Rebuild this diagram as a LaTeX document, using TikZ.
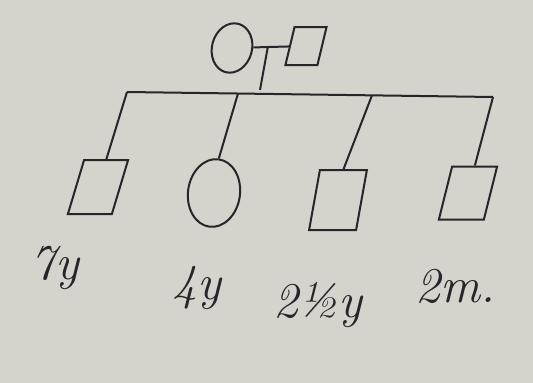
\documentclass[tikz,border=0pt]{standalone}
\usepackage{fontspec}
\usetikzlibrary{shapes.geometric}
\definecolor{paper}{RGB}{214,211,204}
\definecolor{ink}{RGB}{38,38,42}
\begin{document}
\begin{tikzpicture}[x=1pt,y=-1pt,
  male/.style={draw=ink, rectangle, inner sep=0pt, line width=2pt},
  female/.style={draw=ink, ellipse, inner sep=0pt, line width=2pt},
  conn/.style={draw=ink, line width=2pt},
  age/.style={text=ink, inner sep=0pt, font=\fontsize{50}{50}\selectfont\itshape}]
\fill[paper] (0,0) rectangle (533,383);
\useasboundingbox (0,0) rectangle (533,383);
% parents
\node[female, minimum width=40pt, minimum height=50pt, rotate=-15] (mother) at (232,48) {};
\node[male, minimum width=32pt, minimum height=38pt, xslant=0.24] (father) at (306,46) {};
% children
\node[male, minimum width=44pt, minimum height=54pt, xslant=0.3] (c1) at (98,187) {};
\node[female, minimum width=52pt, minimum height=68pt, rotate=-8] (c2) at (214,193) {};
\node[male, minimum width=47pt, minimum height=60pt, xslant=0.18] (c3) at (338,200) {};
\node[male, minimum width=45pt, minimum height=53pt, xslant=0.25] (c4) at (468,193) {};
% connector points
\coordinate (mk) at (268,46);
\coordinate (sd) at (260,90);
\coordinate (s1) at (127,92);
\coordinate (s2) at (238,93.5);
\coordinate (s3) at (372,95.3);
\coordinate (s4) at (493,97);
\draw[conn] (mother) -- (father);
\draw[conn] (mk) -- (sd);
\draw[conn] (s1) -- (s4);
\draw[conn] (s1) -- (c1.north);
\draw[conn] (s2) -- (c2.north);
\draw[conn] (s3) -- (c3.north);
\draw[conn] (s4) -- (c4.north);
% ages
\node[age] (a1) at (55,268) {7y};
\node[age] (a2) at (197,288) {4y};
\node[age] (a3) at (318,305) {2½y};
\node[age] (a4) at (455,286) {2m.};
\end{tikzpicture}
\end{document}
